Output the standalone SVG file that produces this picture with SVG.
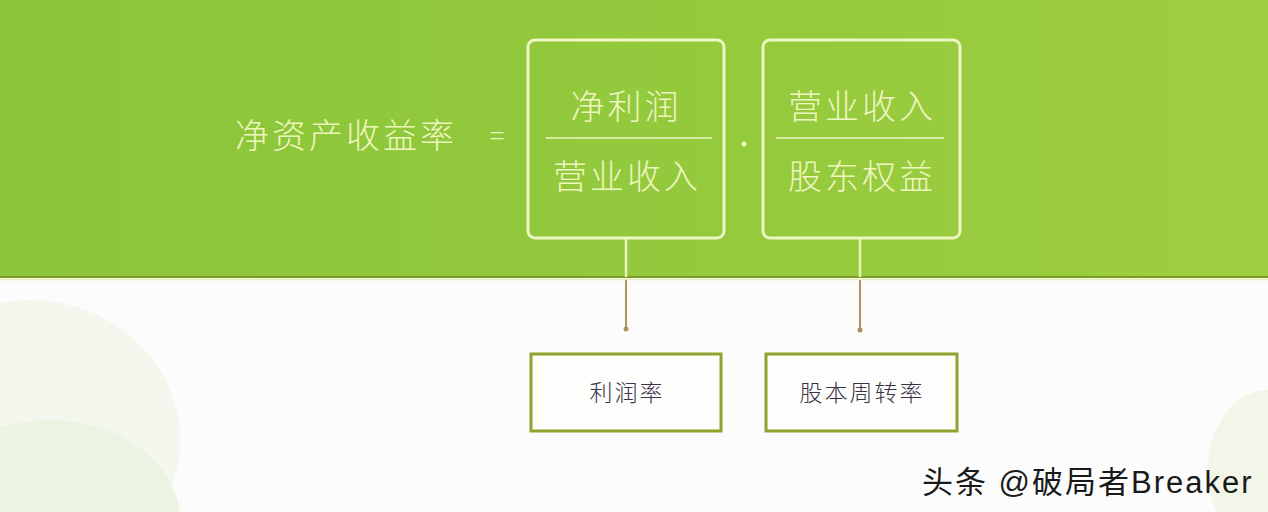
<svg xmlns="http://www.w3.org/2000/svg" width="1268" height="512" viewBox="0 0 1268 512">
<defs>
<linearGradient id="band" x1="0" y1="0" x2="1" y2="0">
<stop offset="0" stop-color="#8bc53a"/>
<stop offset="0.5" stop-color="#93c93c"/>
<stop offset="1" stop-color="#9dce3f"/>
</linearGradient>
</defs>
<style>
.top{fill:none;stroke:#eef6c4;stroke-width:3}
.frac{stroke:#eef6c4;stroke-width:1.5}
.big{font-family:"Noto Sans CJK SC","Noto Sans CJK JP",sans-serif;font-size:34px;fill:#eef6c0;text-anchor:middle;font-weight:300;letter-spacing:3px}
.bot{fill:#fdfdfb;stroke:#8ea42c;stroke-width:3}
.small{font-family:"Noto Sans CJK SC","Noto Sans CJK JP",sans-serif;font-size:23px;fill:#3a3248;text-anchor:middle;font-weight:300;letter-spacing:2px}
.conn{stroke:#a7975e;stroke-width:2;fill:none}
.connTop{stroke:#e9f3b8;stroke-width:2.5;fill:none}
</style>
<rect width="1268" height="512" fill="#fbfcfb"/>
<ellipse cx="30" cy="440" rx="150" ry="140" fill="#f3f7ee"/>
<ellipse cx="50" cy="520" rx="130" ry="100" fill="#edf3e2"/>
<ellipse cx="1268" cy="470" rx="60" ry="80" fill="#f1f6e8"/>
<rect width="1268" height="277" fill="url(#band)"/>
<line x1="0" y1="277" x2="1268" y2="277" stroke="#7a9a2a" stroke-width="2"/>
<line x1="0" y1="279.5" x2="1268" y2="279.5" stroke="#e2f1b0" stroke-width="1.5"/>

<g id="title">
<text x="346" y="148" class="big">净资产收益率</text>
<text x="497" y="146" class="big" style="font-size:28px;letter-spacing:0">=</text>
</g>

<g id="box-left">
<rect x="528" y="40" width="196" height="198" rx="7" class="top"/>
<line x1="546" y1="138" x2="712" y2="138" class="frac"/>
<text x="626" y="119" class="big">净利润</text>
<text x="627" y="189" class="big">营业收入</text>
</g>

<g id="dot"><circle cx="744" cy="144" r="2.5" fill="#eef6c4"/></g>

<g id="box-right">
<rect x="763" y="40" width="197" height="198" rx="7" class="top"/>
<line x1="776" y1="138" x2="944" y2="138" class="frac"/>
<text x="862" y="119" class="big">营业收入</text>
<text x="862" y="189" class="big">股东权益</text>
</g>

<g id="connectors">
<line x1="626" y1="238" x2="626" y2="277" class="connTop"/>
<line x1="626" y1="280" x2="626" y2="328" class="conn"/>
<circle cx="626" cy="329" r="2.5" fill="#a7975e"/>
<line x1="860" y1="238" x2="860" y2="277" class="connTop"/>
<line x1="860" y1="280" x2="860" y2="329" class="conn"/>
<circle cx="860" cy="330" r="2.5" fill="#a7975e"/>
</g>

<g id="node-profit">
<rect x="531" y="354" width="190" height="77" class="bot"/>
<text x="627" y="401" class="small">利润率</text>
</g>

<g id="node-turnover">
<rect x="766" y="354" width="191" height="77" class="bot"/>
<text x="862" y="401" class="small">股本周转率</text>
</g>

<g id="watermark">
<text x="922" y="493" font-family="'Liberation Sans','Noto Sans CJK SC',sans-serif" font-size="31" letter-spacing="2" fill="#1a1a1a">头条 @破局者Breaker</text>
</g>
</svg>
